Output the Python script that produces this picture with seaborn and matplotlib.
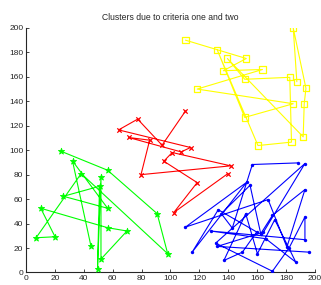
import matplotlib
matplotlib.use("Agg")
import matplotlib.pyplot as plt
import seaborn as sns

sns.set_style("ticks")
plt.rcParams['font.family'] = ['Liberation Sans', 'DejaVu Sans']

# cluster 1 (green, *)
green_x = [24.1, 56.5, 90.8, 98.1, 38.2, 7.0, 20.1, 10.2, 56.5, 69.9, 51.9, 51.9, 49.5, 50.9, 25.9, 56.5, 32.2, 44.9]
green_y = [99.2, 83.6, 48.1, 15.3, 80.9, 28.4, 29.2, 52.5, 36.6, 33.9, 10.9, 78.1, 3.0, 70.5, 62.3, 52.5, 91.2, 21.9]

# cluster 2 (red, x)
red_x = [110.4, 94.2, 77.3, 64.1, 113.9, 107.4, 71.0, 85.6, 79.6, 141.7, 101.2, 95.4, 118.5, 102.3, 139.8]
red_y = [132.0, 104.1, 125.4, 116.6, 102.2, 98.6, 110.4, 108.2, 80.0, 87.2, 98.1, 91.0, 73.5, 49.0, 80.9]

# cluster 3 (blue, .)
blue_x = [188.0, 156.7, 142.8, 135.2, 155.1, 162.5, 170.6, 193.1, 180.6, 167.6, 110.4, 152.8, 115.0, 133.1, 159.7, 149.8,
          137.0, 152.1, 160.2, 172.2, 186.8, 166.0, 127.8, 193.1, 193.1, 182.2, 170.6, 131.3, 193.1, 164.4, 132.4, 196.0]
blue_y = [89.6, 88.3, 36.3, 48.1, 71.3, 31.7, 46.7, 67.8, 20.7, 59.6, 37.1, 73.8, 16.6, 51.3, 33.1, 16.6,
          9.8, 48.1, 15.3, 43.2, 8.4, 27.6, 33.9, 26.8, 45.4, 20.2, 1.0, 24.0, 89.1, 33.0, 21.3, 16.6]

# cluster 4 (yellow, squares)
yellow_x = [110.4, 152.5, 136.6, 163.7, 118.5, 185.0, 151.4, 132.4, 160.6, 183.8, 182.6, 151.4, 139.4, 191.9, 192.6, 193.8, 185.0, 187.5]
yellow_y = [190.0, 175.0, 165.0, 166.0, 150.0, 138.0, 126.8, 182.0, 103.8, 106.6, 159.6, 158.0, 175.0, 110.9, 138.0, 150.6, 200.0, 156.0]

fig = plt.figure(figsize=(3.21, 2.85), dpi=100)
ax = fig.add_axes([0.081, 0.044, 0.9, 0.858])

lw = 0.8
clusters = [
    (green_x, green_y, '#00ff00'),
    (red_x, red_y, '#ff0000'),
    (blue_x, blue_y, '#0000ff'),
    (yellow_x, yellow_y, '#ffff00'),
]
for xs, ys, c in clusters:
    sns.lineplot(x=xs, y=ys, sort=False, estimator=None, ax=ax, color=c, linewidth=lw)

# markers
sns.scatterplot(x=green_x, y=green_y, ax=ax, marker='*', s=22, color='#00ff00',
                edgecolor='#00ff00', linewidth=0.6, zorder=3)
sns.scatterplot(x=red_x, y=red_y, ax=ax, marker='x', s=10, color='#ff0000', linewidth=0.9, zorder=3)
sns.scatterplot(x=blue_x, y=blue_y, ax=ax, marker='o', s=6, color='#0000ff', linewidth=0, zorder=3)
sns.scatterplot(x=yellow_x, y=yellow_y, ax=ax, marker='s', s=20, facecolor='none',
                edgecolor='#ffff00', linewidth=0.9, zorder=3)

ax.set_xlim(0, 200)
ax.set_ylim(0, 200)
ax.set_xticks(range(0, 201, 20))
ax.set_yticks(range(0, 201, 20))
ax.tick_params(direction='in', length=2.5, width=0.6, labelsize=6, pad=2)
sns.despine(ax=ax)
for s in ['left', 'bottom']:
    ax.spines[s].set_linewidth(0.8)
ax.set_title('Clusters due to criteria one and two', fontsize=6.2, pad=6)

fig.savefig('out.png', dpi=100)
